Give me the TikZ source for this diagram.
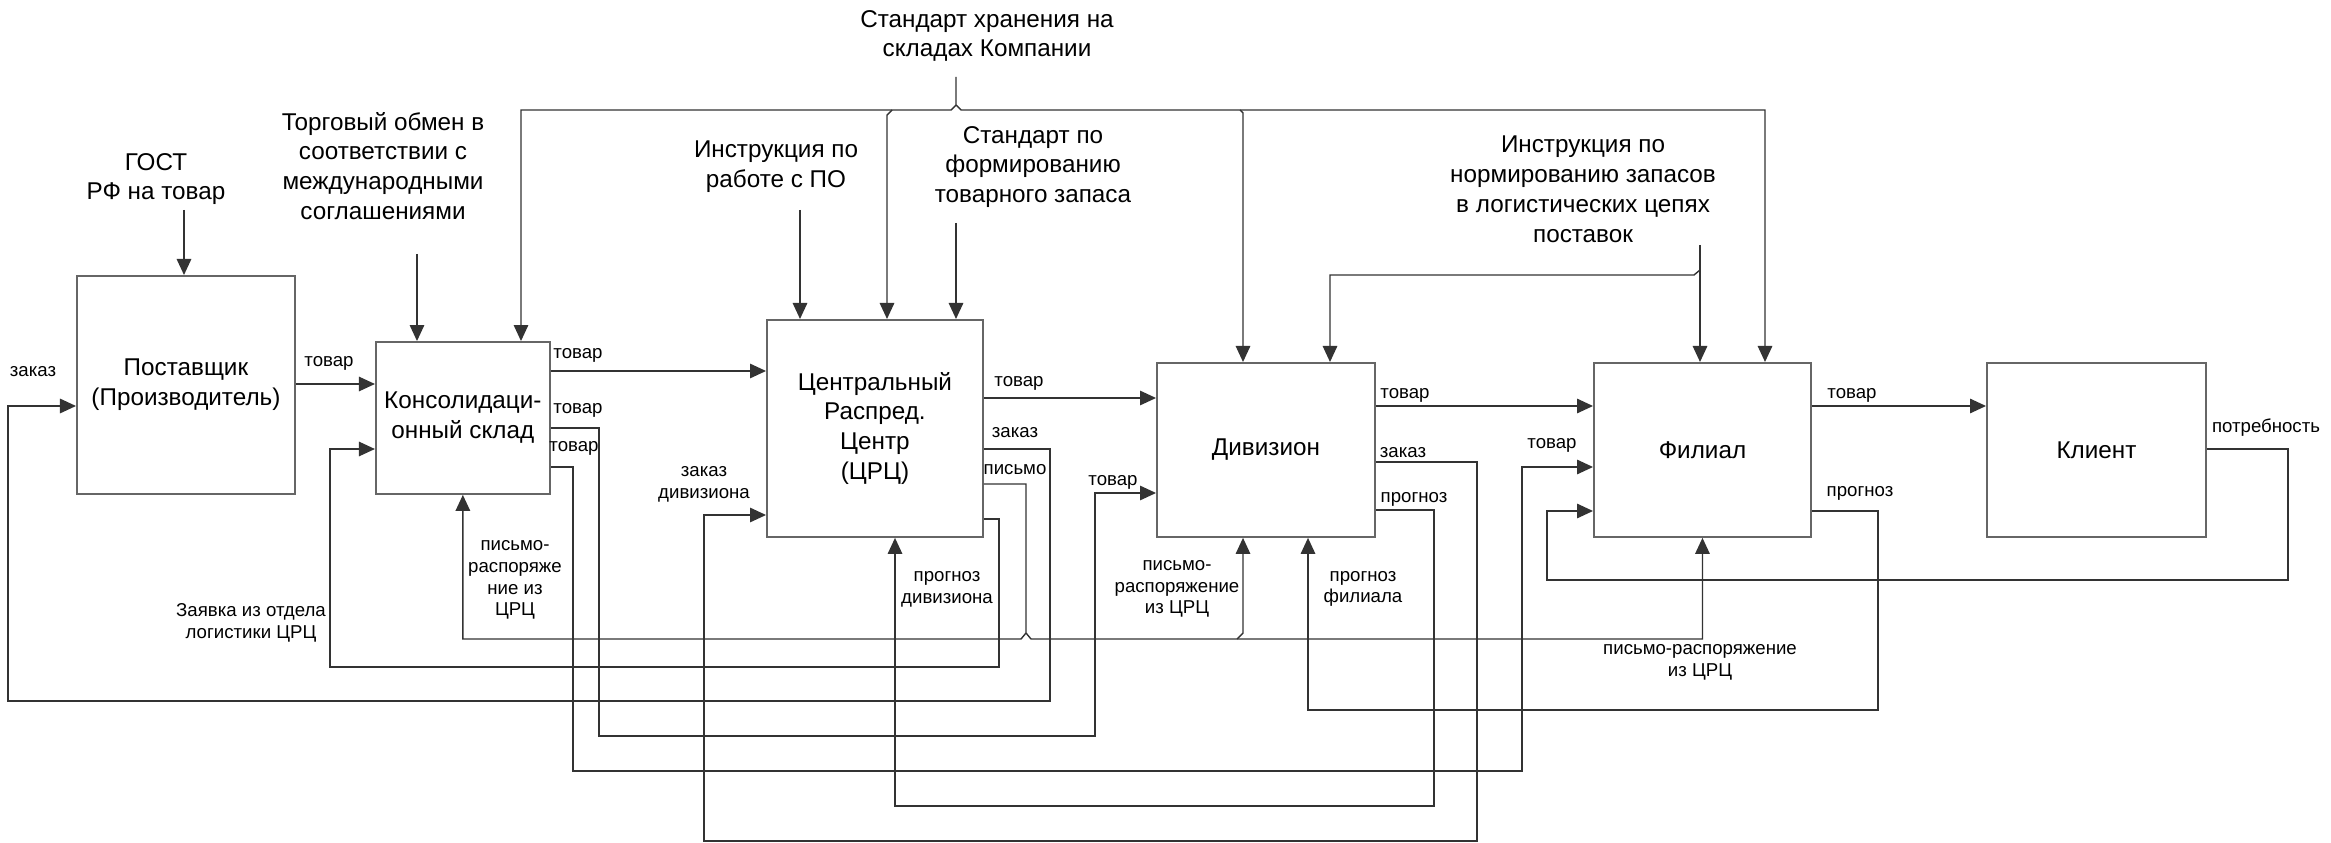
\documentclass[tikz,border=0pt]{standalone}
\usepackage{fontspec}
\setmainfont{Liberation Sans}
\usepackage{tikz}
\usetikzlibrary{positioning,calc,arrows.meta}

\begin{document}
\begin{tikzpicture}[
      x=0.01cm, y=-0.01cm,
      >={Triangle[length=0.16cm,width=0.145cm]},
      box/.style={draw=black!60,line width=0.5pt,inner sep=0pt,align=center,
        font=\fontsize{6.9}{8.5}\selectfont},
      ctrl/.style={inner sep=0pt,align=center,font=\fontsize{6.9}{8.5}\selectfont},
      lbl/.style={inner sep=0pt,align=center,font=\fontsize{5.3}{6.2}\selectfont},
      flow/.style={draw=black!80,line width=0.4pt},
      ]
      \useasboundingbox (0,0) rectangle (2331,843);
      % functional blocks
      \node[box,minimum width=2.18cm,minimum height=2.18cm,anchor=north west]
        at (76,275) (supplier) {Поставщик\\(Производитель)};
      \node[box,minimum width=1.74cm,minimum height=1.52cm,
        right=0.79cm of supplier.south east,anchor=south west]
        (konsol) {Консолидаци-\\онный склад};
      \node[box,minimum width=2.16cm,minimum height=2.17cm,anchor=north west]
        at (766,319) (crc) {Центральный\\Распред.\\Центр\\(ЦРЦ)};
      \node[box,minimum width=2.18cm,minimum height=1.74cm,anchor=north west]
        at (1156,362) (division) {Дивизион};
      \node[box,minimum width=2.17cm,minimum height=1.74cm,right=2.17cm of division]
        (branch) {Филиал};
      \node[box,minimum width=2.19cm,minimum height=1.74cm,right=1.74cm of branch]
        (client) {Клиент};
      % controls
      \node[ctrl] at (156,179) (gost) {ГОСТ\\РФ на товар};
      \node[ctrl] at (383,166) (trade) {Торговый обмен в\\соответствии с\\международными\\соглашениями};
      \node[ctrl] at (776,167) (instrSoft) {Инструкция по\\работе с ПО};
      \node[ctrl] at (1033,167) (stdStock) {Стандарт по\\формированию\\товарного запаса};
      \node[ctrl] at (987,36) (stdStore) {Стандарт хранения на\\складах Компании};
      \node[ctrl] at (1583,189) (instrNorm) {Инструкция по\\нормированию запасов\\в логистических цепях\\поставок};
      \coordinate (gostOut) at (184,210);
      \coordinate (tradeOut) at (417,254);
      \coordinate (instrSoftOut) at (800,210);
      \coordinate (stdStockOut) at (956,223);
      \coordinate (stdStoreOut) at (956,77);
      \coordinate (instrNormOut) at (1700,245);
      \draw[flow,->] (gostOut) -- (supplier.north -| gostOut);
      \draw[flow,->] (tradeOut) -- (konsol.north -| tradeOut);
      \draw[flow,->] (instrSoftOut) -- (crc.north -| instrSoftOut);
      \draw[flow,->] (stdStockOut) -- (crc.north -| stdStockOut);
      \draw[flow,->] (stdStoreOut) -- (956,105) -- (951,110) -| (konsol.north -| 521,0);
      \draw[flow,->] (956,105) -- (961,110) -| (branch.north -| 1765,0);
      \draw[flow,->] (892,110) -- (887,115) -- (crc.north -| 887,0);
      \draw[flow,->] (1240,110) -- (1243,113) -- (division.north -| 1243,0);
      \draw[flow,->] (instrNormOut) -- (branch.north -| instrNormOut);
      \draw[flow,->] (1700,270) -- (1694,275) -| (division.north -| 1330,0);
      % goods
      \draw[flow,->] (supplier.east |- 0,384) -- (konsol.west |- 0,384);
      \draw[flow,->] (konsol.east |- 0,371) -- (crc.west |- 0,371);
      \draw[flow,->] (konsol.east |- 0,428) -| (599,736) -| (1095,493) -- (division.west |- 0,493);
      \draw[flow,->] (konsol.east |- 0,467) -| (573,771) -| (1522,467) -- (branch.west |- 0,467);
      \draw[flow,->] (crc.east |- 0,398) -- (division.west |- 0,398);
      \draw[flow,->] (division.east |- 0,406) -- (branch.west |- 0,406);
      \draw[flow,->] (branch.east |- 0,406) -- (client.west |- 0,406);
      % orders, letters, forecasts
      \draw[flow,->] (crc.east |- 0,449) -| (1050,701) -| (8,406) -- (supplier.west |- 0,406);
      \draw[flow,->] (crc.east |- 0,519) -| (999,667) -| (330,449) -- (konsol.west |- 0,449);
      \draw[flow,->] (crc.east |- 0,484) -| (1026,633) -- (1021,639) -| (konsol.south);
      \draw[flow,->] (1026,633) -- (1031,639) -| (branch.south);
      \draw[flow,->] (1237,639) -- (1243,633) -- (division.south -| 1243,0);
      \draw[flow,->] (division.east |- 0,462) -| (1477,841) -| (704,515) -- (crc.west |- 0,515);
      \draw[flow,->] (division.east |- 0,510) -| (1434,806) -| (crc.south -| 895,0);
      \draw[flow,->] (branch.east |- 0,511) -| (1878,710) -| (division.south -| 1308,0);
      \draw[flow,->] (client.east |- 0,449) -| (2288,580) -| (1547,511) -- (branch.west |- 0,511);
      % labels
      \node[lbl] at (33,372) (lSupOrder) {заказ};
      \node[lbl] at (329,363) (lSupGoods) {товар};
      \node[lbl] at (578,355) (lKonGoodsA) {товар};
      \node[lbl] at (578,410) (lKonGoodsB) {товар};
      \node[lbl] at (574,448) (lKonGoodsC) {товар};
      \node[lbl] at (1019,383) (lCrcGoods) {товар};
      \node[lbl] at (1015,433) (lCrcOrder) {заказ};
      \node[lbl] at (1015,470) (lCrcLetter) {письмо};
      \node[lbl] at (1113,482) (lDivGoodsIn) {товар};
      \node[lbl] at (1405,395) (lDivGoods) {товар};
      \node[lbl] at (1403,453) (lDivOrder) {заказ};
      \node[lbl] at (1414,499) (lDivFcst) {прогноз};
      \node[lbl] at (1552,445) (lBrGoodsIn) {товар};
      \node[lbl] at (1852,395) (lBrGoods) {товар};
      \node[lbl] at (1860,493) (lBrFcst) {прогноз};
      \node[lbl] at (2266,428) (lNeed) {потребность};
      \node[lbl] at (704,484) (lCrcOrderIn) {заказ\\дивизиона};
      \node[lbl] at (251,623) (lRequest) {Заявка из отдела\\логистики ЦРЦ};
      \node[lbl] at (515,580) (lLetterKon) {письмо-\\распоряже\\ние из\\ЦРЦ};
      \node[lbl] at (1177,589) (lLetterDiv) {письмо-\\распоряжение\\из ЦРЦ};
      \node[lbl] at (1700,662) (lLetterBr) {письмо-распоряжение\\из ЦРЦ};
      \node[lbl] at (947,589) (lFcstDiv) {прогноз\\дивизиона};
      \node[lbl] at (1363,589) (lFcstBr) {прогноз\\филиала};
    \end{tikzpicture}
\end{document}
